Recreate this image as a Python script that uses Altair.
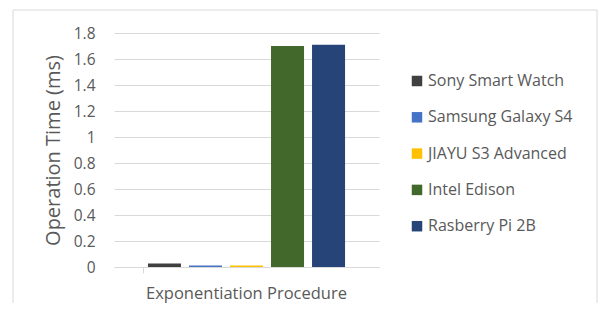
import altair as alt
import pandas as pd

category = ["Exponentiation Procedure"]
devices = ["Sony Smart Watch", "Samsung Galaxy S4", "JIAYU S3 Advanced", "Intel Edison", "Rasberry Pi 2B"]
times_ms = [0.027, 0.012, 0.012, 1.70, 1.71]
colors = ["#404040", "#4472C4", "#FFC000", "#43682B", "#264478"]
y_ticks = [0, 0.2, 0.4, 0.6, 0.8, 1.0, 1.2, 1.4, 1.6, 1.8]

df = pd.DataFrame({
    "Category": category * len(devices),
    "Device": devices,
    "Time": times_ms,
})

FONT = "Open Sans"
TXT = "#595959"

frame = alt.Chart(pd.DataFrame({"a": [0]})).mark_rect(
    fill="white", fillOpacity=0, stroke="#D9D9D9", strokeWidth=1, clip=False
).encode(
    x=alt.value(-101), x2=alt.value(483), y=alt.value(-23), y2=alt.value(300)
)

bars = alt.Chart(df).mark_bar().encode(
    x=alt.X("Category:N", title=None,
            scale=alt.Scale(paddingInner=0, paddingOuter=0.146),
            axis=alt.Axis(labelAngle=0, labelFont=FONT, labelFontSize=16.5, labelColor=TXT,
                          labelPadding=12, labelLimit=400, domainColor="#D9D9D9",
                          tickColor="#D9D9D9", ticks=True, tickSize=6, bandPosition=0,
                          grid=False)),
    xOffset=alt.XOffset("Device:N", sort=devices,
                        scale=alt.Scale(paddingInner=0.195, paddingOuter=0.0975)),
    y=alt.Y("Time:Q", title="Operation Time (ms)",
            scale=alt.Scale(domain=[0, 1.8], nice=False),
            axis=alt.Axis(values=y_ticks, format=".1~f", labelFont=FONT, labelFontSize=15.5,
                          labelColor=TXT, labelPadding=19, domain=False, ticks=False,
                          gridColor="#D9D9D9", titleFont=FONT, titleFontSize=20,
                          titleColor=TXT, titleFontWeight="normal", titlePadding=10)),
    color=alt.Color("Device:N", sort=devices, title=None,
                    scale=alt.Scale(domain=devices, range=colors),
                    legend=alt.Legend(orient="none", legendX=295, legendY=40,
                                      symbolType="square", symbolSize=110,
                                      symbolStrokeWidth=0, labelFont=FONT,
                                      labelFontSize=16, labelColor=TXT,
                                      labelOffset=3, rowPadding=20.3, padding=0)),
)

chart = alt.layer(frame, bars).properties(
    width=265, height=234,
    padding={"left": 106, "top": 25, "right": 221, "bottom": 36},
    autosize=alt.AutoSizeParams(type="none"),
).configure_view(stroke=None)

chart.save("out.html", embed_options={"renderer": "svg", "actions": False})
